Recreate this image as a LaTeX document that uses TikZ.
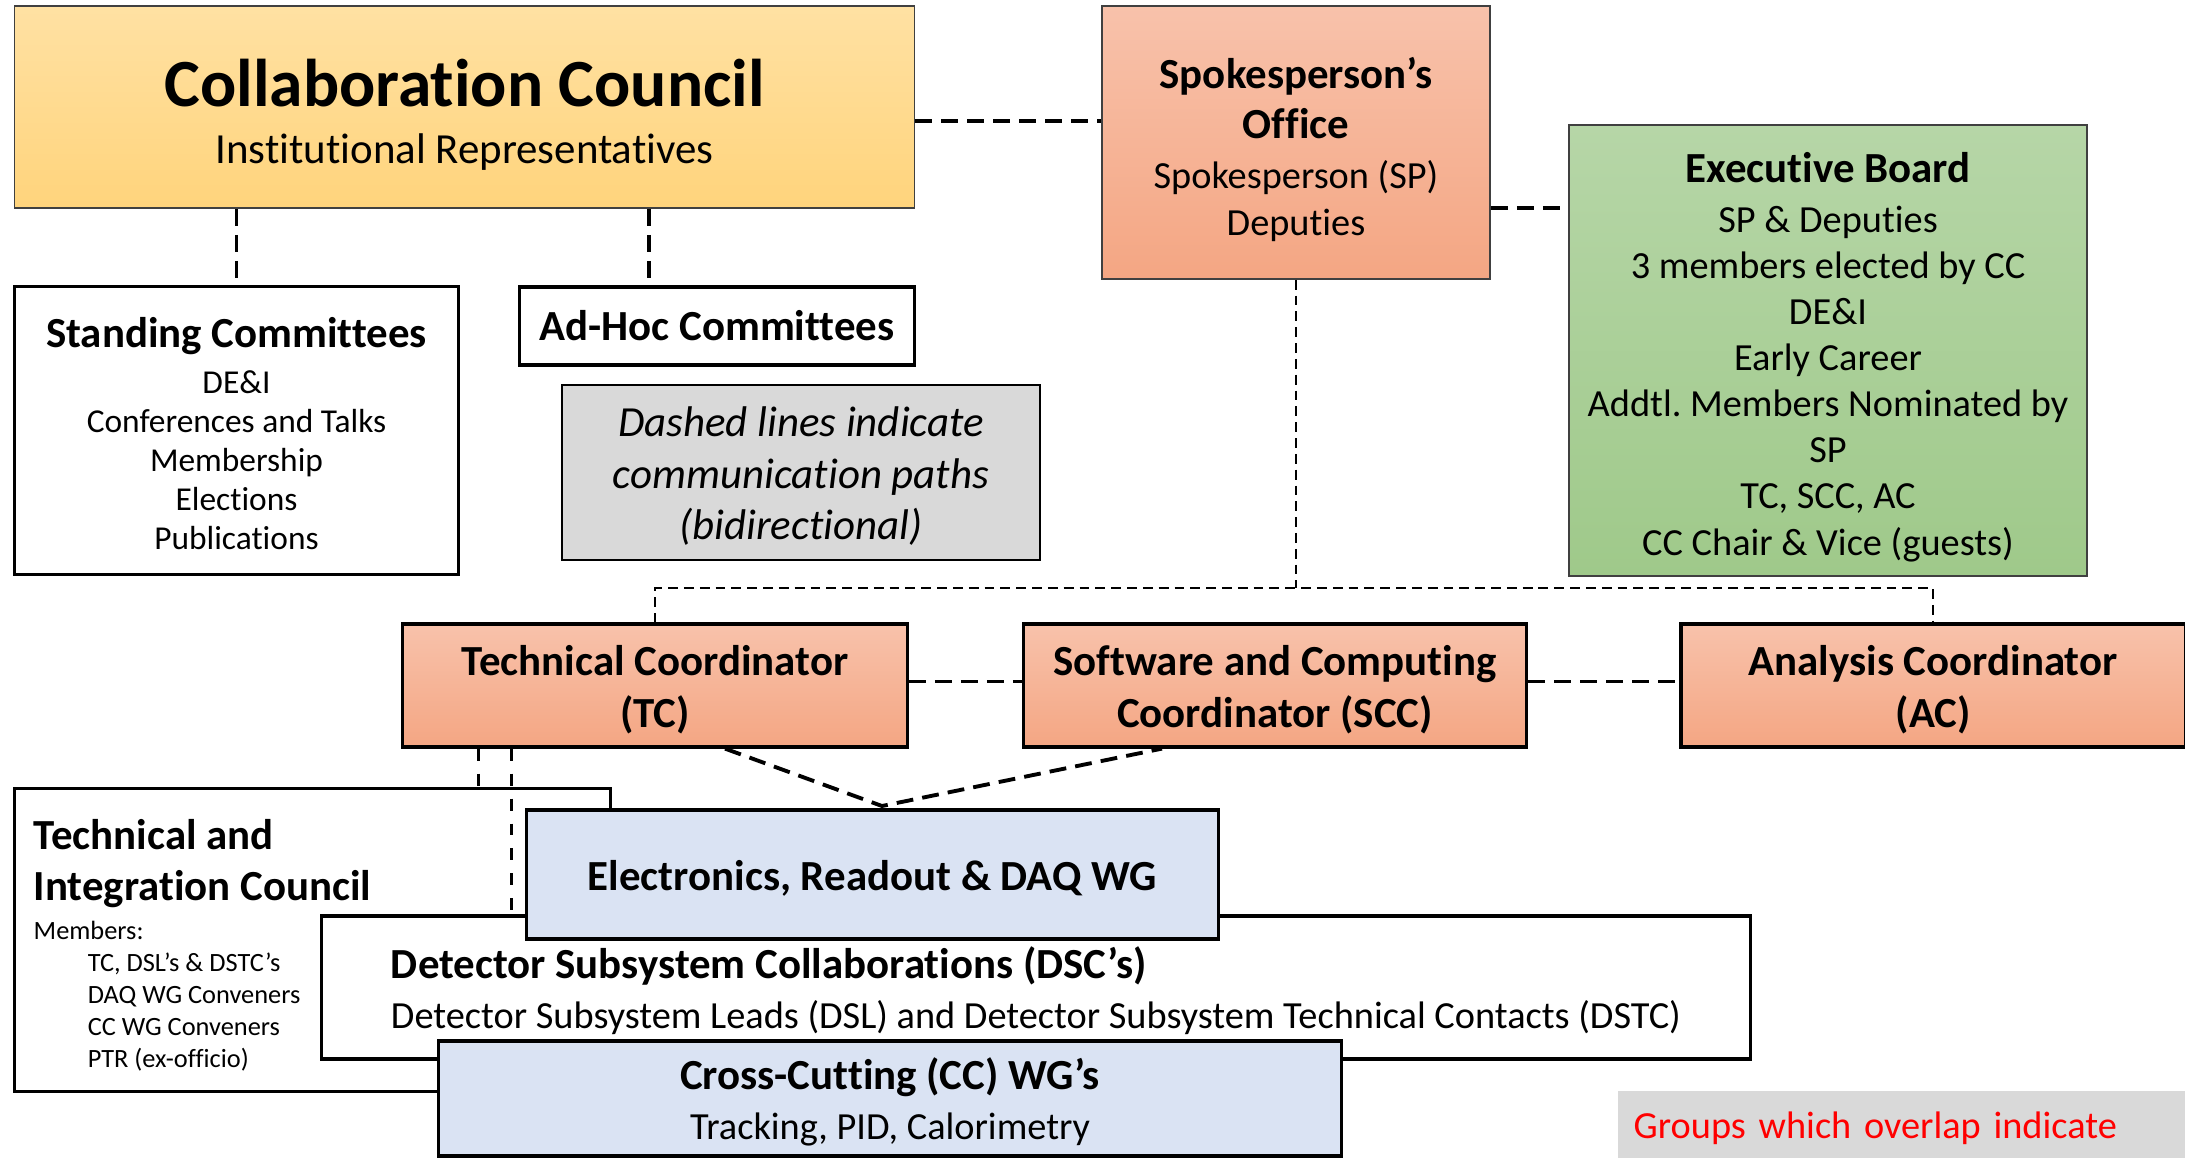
\documentclass[tikz,border=0pt]{standalone}
\usepackage{fontspec}
\setmainfont{Carlito}[Ligatures=NoCommon]
\usepackage{xcolor}
\usetikzlibrary{positioning,calc}
\definecolor{ccTop}{HTML}{FFE1A3}
\definecolor{ccBot}{HTML}{FFD47C}
\definecolor{orTop}{HTML}{F8C2AB}
\definecolor{orBot}{HTML}{F4A683}
\definecolor{gnTop}{HTML}{B6D6A7}
\definecolor{gnBot}{HTML}{9FC98A}
\definecolor{wgBlue}{HTML}{DAE3F3}
\definecolor{noteGray}{HTML}{D9D9D9}
\newcommand{\fsTitle}{\fontsize{12.2pt}{14.4pt}\selectfont\bfseries}
\newcommand{\fsText}{\fontsize{10.9pt}{13.3pt}\selectfont}
\newcommand{\fsSmall}{\fontsize{9.5pt}{11.1pt}\selectfont}
\newcommand{\fsTiny}{\fontsize{7.5pt}{9.1pt}\selectfont}
\newcommand{\tstrut}[1]{\rule{0pt}{#1}}
\frenchspacing

\begin{document}
\begin{tikzpicture}[
  x=0.01cm, y=-0.01cm,
  font=\fsText,
  box/.style={align=center, inner sep=0pt},
  thinbox/.style={box, draw=black!75, line width=0.4pt},
  thickbox/.style={box, draw=black, line width=0.9pt},
  council/.style={thinbox, top color=ccTop, bottom color=ccBot},
  office/.style={thinbox, top color=orTop, bottom color=orBot},
  board/.style={thinbox, top color=gnTop, bottom color=gnBot},
  coord/.style={thickbox, top color=orTop, bottom color=orBot,
    minimum width=5.04cm, minimum height=1.23cm,
    font=\fontsize{12.2pt}{14.65pt}\selectfont\bfseries},
  wg/.style={thickbox, fill=wgBlue},
  committee/.style={thickbox, fill=white},
  note/.style={box, fill=noteGray},
  comm/.style={dash pattern=on 4.8pt off 2.6pt, line width=1.1pt},
  bus/.style={dash pattern=on 2.8pt off 1.7pt, line width=0.55pt},
  link/.style={dash pattern=on 3.4pt off 3.7pt, line width=0.85pt}
]
\useasboundingbox (0,0) rectangle (2185,1158);

% top row
\node[council, minimum width=8.99cm, minimum height=2.02cm,
  font=\fontsize{12.2pt}{16.2pt}\selectfont] (cc) at (464.5,107)
  {{\fontsize{19.2pt}{20pt}\selectfont\bfseries\tstrut{18pt}Collaboration Council}\\Institutional Representatives};
\node[office, minimum width=3.88cm, minimum height=2.73cm] (so) at (1296,142.5)
  {{\fsTitle\tstrut{12.8pt}Spokesperson’s}\\[0.9pt]{\fsTitle Office}\\[0.9pt]Spokesperson (SP)\\Deputies};
\node[board, minimum width=5.18cm, minimum height=4.51cm,
  font=\fontsize{10.9pt}{13.1pt}\selectfont] (eb) at (1828,350.5)
  {{\fsTitle\tstrut{12.3pt}Executive Board}\\[1.1pt]SP \& Deputies\\3 members elected by CC\\DE\&I\\Early Career\\Addtl. Members Nominated by\\SP\\TC, SCC, AC\\CC Chair \& Vice (guests)};

% committees
\node[committee, minimum width=4.43cm, minimum height=2.87cm, font=\fsSmall] (stand) at (236.5,430.5)
  {{\fsTitle\tstrut{10.5pt}Standing Committees}\\[2pt]DE\&I\\Conferences and Talks\\Membership\\Elections\\Publications};
\node[committee, minimum width=3.94cm, minimum height=0.78cm, font=\fsTitle] (adhoc) at (717,326) {Ad-Hoc Committees};
\node[note, draw=black, line width=0.7pt, minimum width=4.78cm, minimum height=1.75cm,
  font=\fontsize{12.2pt}{14.7pt}\selectfont\itshape] (legend) at (801,472.5)
  {\tstrut{10.5pt}Dashed lines indicate\\communication paths\\(bidirectional)};

% coordinators
\node[coord] (tc) at (655,685.5) {\tstrut{11pt}Technical Coordinator\\(TC)};
\node[coord, minimum width=5.03cm, right=1.13cm of tc] (scc) {\tstrut{11pt}Software and Computing\\Coordinator (SCC)};
\node[coord, right=1.51cm of scc] (ac) {\tstrut{11pt}Analysis Coordinator\\(AC)};

% overlapping groups
\node[committee, minimum width=5.95cm, minimum height=3.02cm] (tic) at (312.5,940) {};
\node[anchor=north west, inner sep=0pt, align=left,
  font=\fontsize{12.2pt}{14.5pt}\selectfont\bfseries] (tictitle) at (33,819)
  {Technical and\\Integration Council};
\node[anchor=north west, inner sep=0pt, align=left, font=\fsTiny] (ticlist) at (33,920)
  {Members:\\\hspace*{15.4pt}TC, DSL’s \& DSTC’s\\\hspace*{15.4pt}DAQ WG Conveners\\\hspace*{15.4pt}CC WG Conveners\\\hspace*{15.4pt}PTR (ex-officio)};
\node[committee, align=left, minimum width=14.28cm, minimum height=1.43cm] (dsc) at (1036,987.5)
  {{\fsTitle\tstrut{11pt}Detector Subsystem Collaborations (DSC’s)}\\[0.9pt]Detector Subsystem Leads (DSL) and Detector Subsystem Technical Contacts (DSTC)};
\node[wg, minimum width=6.91cm, minimum height=1.29cm, font=\fsTitle] (daq) at (872.5,874.5)
  {\tstrut{10.5pt}Electronics, Readout \& DAQ WG};
\node[wg, minimum width=9.02cm, minimum height=1.15cm] (ccwg) at (890,1098.5)
  {{\fsTitle\tstrut{11pt}Cross-Cutting (CC) WG’s}\\[0.9pt]Tracking, PID, Calorimetry};
\node[note, anchor=north west, text=red, align=left, text width=5.4cm,
  inner xsep=0.16cm, inner ysep=0.2cm, text height=0.28cm, text depth=1cm] (overlap) at (1617,1090)
  {Groups which overlap indicate};

% communication paths
\draw[comm] (cc.east |- 0,121) -- (so.west |- 0,121);
\draw[comm] (so.east |- 0,208) -- (eb.west |- 0,208);
\draw[comm] (stand.north |- cc.south) -- (stand.north);
\draw[comm] (649,0 |- cc.south) -- (649,0 |- adhoc.north);
\draw[bus] (so.south) -- (so.south |- 0,588);
\draw[bus] (tc.north) |- (ac.north |- 0,588) -- (ac.north);
\draw[comm] ([yshift=0.04cm]tc.east) -- ([yshift=0.04cm]scc.west);
\draw[comm] ([yshift=0.04cm]scc.east) -- ([yshift=0.04cm]ac.west);
\coordinate (meet) at (882,806);
\draw[comm] (725,0 |- tc.south) -- (meet) -- (1162,0 |- scc.south);
\draw[link] (478,0 |- tc.south) -- (478,0 |- tic.north);
\draw[link] (511,0 |- tc.south) -- (511,0 |- dsc.north);
\end{tikzpicture}
\end{document}
